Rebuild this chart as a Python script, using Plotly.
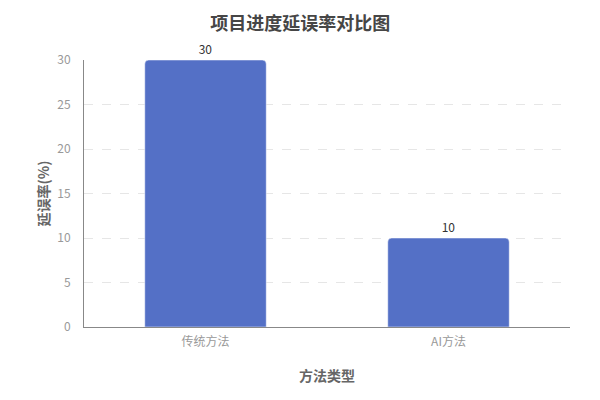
import plotly.graph_objects as go

methods = ['传统方法', 'AI方法']
delay_rate = [30, 10]
y_ticks = [0, 5, 10, 15, 20, 25, 30]

fig = go.Figure(go.Bar(
    x=methods,
    y=delay_rate,
    width=0.5,
    marker=dict(color='#5470c6', line=dict(color='#ffffff', width=0.5)),
    text=delay_rate,
    textposition='outside',
    textfont=dict(size=12, color='#333333'),
    cliponaxis=False
))

# page has an 8px body margin, so margins are shifted to compensate
fig.update_layout(
    width=600,
    height=400,
    margin=dict(l=76, r=38, t=52, b=81),
    paper_bgcolor='white',
    plot_bgcolor='white',
    font=dict(family='Noto Sans CJK SC', size=12, color='#999999'),
    title=dict(text='<b>项目进度延误率对比图</b>', x=0.487, xanchor='center', y=0.976, yanchor='top',
               font=dict(size=18, color='#464646')),
    barcornerradius=4,
    showlegend=False
)

fig.update_xaxes(
    title=dict(text='<b>方法类型</b>', font=dict(size=14, color='#666666'), standoff=22),
    showline=True, linecolor='#888888', linewidth=1,
    ticks='', ticklabelstandoff=4, tickfont=dict(size=12, color='#999999'),
    showgrid=False
)

fig.update_yaxes(
    title=dict(text='<b>延误率(%)</b>', font=dict(size=14, color='#666666'), standoff=4),
    range=[0, 30], tickvals=y_ticks,
    showline=True, linecolor='#888888', linewidth=1,
    ticks='', ticklabelstandoff=10, tickfont=dict(size=12, color='#999999'),
    showgrid=True, gridcolor='#e6e6e6', griddash='dash', gridwidth=1,
    zeroline=False
)

fig.write_html("out.html")
